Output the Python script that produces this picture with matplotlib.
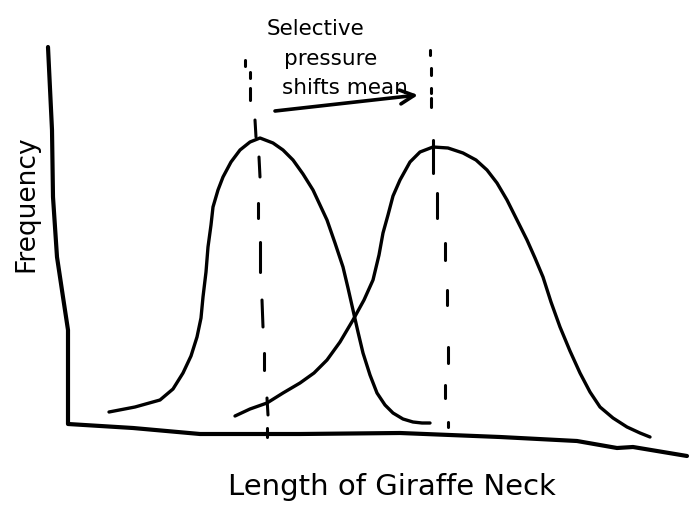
## Sketch: selective pressure shifting the mean neck length

import numpy as np
import matplotlib.pyplot as plt

plt.rcParams['font.family'] = ['DejaVu Sans']

# ----- Traced points (image pixels, y pointing down) -----
axis_x = [48, 52, 53, 57, 63, 68, 68, 133, 200, 300, 400, 500, 577, 617, 633, 687]
axis_y = [47, 130, 197, 257, 297, 330, 424, 428, 434, 434, 433, 437, 441, 448, 447, 456]

before_x = [109, 135, 160, 173, 183, 191, 197, 201, 203, 206, 208, 211, 213, 218, 223, 231,
            240, 250, 260, 273, 283, 293, 303, 313, 327, 335, 343, 348, 353, 358, 363, 370,
            377, 385, 393, 403, 413, 422, 430]
before_y = [412, 407, 400, 389, 373, 356, 337, 318, 297, 272, 247, 225, 207, 190, 177, 162,
            150, 142, 138, 143, 150, 160, 174, 190, 220, 243, 267, 288, 310, 332, 353, 375,
            393, 405, 413, 419, 422, 423, 423]

after_x = [235, 250, 267, 283, 300, 314, 327, 340, 353, 364, 373, 379, 383, 388, 393, 400,
           410, 420, 433, 448, 463, 476, 487, 497, 507, 517, 527, 535, 543, 551, 560, 570,
           580, 590, 600, 613, 627, 640, 650]
after_y = [416, 409, 403, 393, 383, 373, 360, 342, 320, 300, 280, 255, 233, 215, 196, 180,
           162, 152, 147, 148, 153, 160, 170, 183, 200, 220, 240, 258, 277, 302, 327, 351,
           373, 392, 407, 418, 427, 433, 437]

# dash pieces of the two mean lines: (x0, y0, x1, y1)
mean_before = [(245, 60, 245, 66), (250, 72, 250, 78), (250, 88, 250, 100), (255, 120, 256, 137),
               (259, 157, 260, 177), (258, 203, 258, 218), (260, 242, 260, 272),
               (262, 300, 263, 327), (264, 353, 264, 370), (267, 398, 268, 415),
               (267, 428, 267, 437)]
mean_after = [(430, 50, 430, 55), (431, 68, 431, 75), (431, 88, 431, 93), (431, 98, 431, 107),
              (433, 140, 433, 173), (437, 193, 437, 218), (445, 243, 445, 260),
              (447, 290, 447, 305), (448, 347, 448, 363), (445, 385, 445, 398),
              (448, 422, 448, 427)]

arrow_tail = (275, 111)
arrow_tip = (418, 95)

note_lines = ["Selective", "pressure", "shifts mean"]
note_x = [315, 331, 345]
note_y = [29, 59, 88]

xlabel = "Length of Giraffe Neck"
ylabel = "Frequency"

# ----- Plotting -----
fig = plt.figure(figsize=(6.97, 5.18), dpi=100)
ax = fig.add_axes([0, 0, 1, 1])
ax.set_xlim(0, 697)
ax.set_ylim(518, 0)
ax.axis('off')

ax.plot(axis_x, axis_y, color='black', linewidth=3, solid_joinstyle='round', solid_capstyle='round')
ax.plot(before_x, before_y, color='black', linewidth=2.4, solid_joinstyle='round', solid_capstyle='round')
ax.plot(after_x, after_y, color='black', linewidth=2.4, solid_joinstyle='round', solid_capstyle='round')

for x0, y0, x1, y1 in mean_before + mean_after:
    ax.plot([x0, x1], [y0, y1], color='black', linewidth=2.2, solid_capstyle='round')

ax.annotate("", xy=arrow_tip, xytext=arrow_tail,
            arrowprops=dict(arrowstyle='->,head_length=1.0,head_width=0.5',
                            color='black', linewidth=2.6, shrinkA=0, shrinkB=0))

for txt, x, y in zip(note_lines, note_x, note_y):
    ax.text(x, y, txt, ha='center', va='center', fontsize=15.5)

ax.text(392, 487, xlabel, ha='center', va='center', fontsize=21)
ax.text(26, 204, ylabel, ha='center', va='center', fontsize=19, rotation=90)

fig.savefig("out.png", dpi=100)
